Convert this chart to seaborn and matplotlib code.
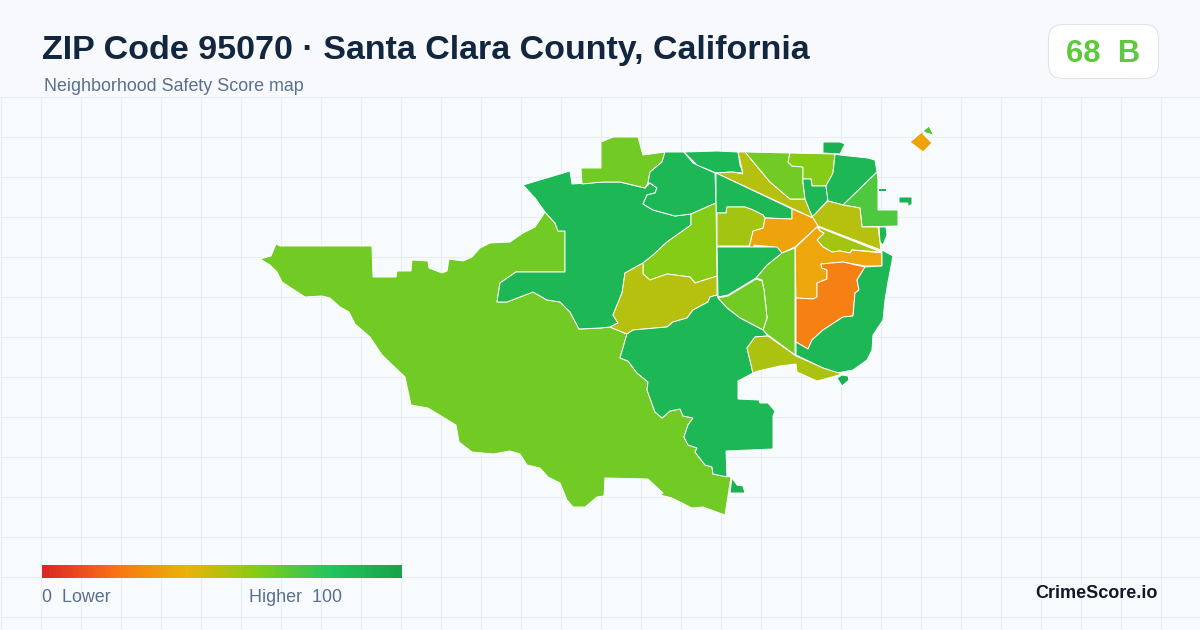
import numpy as np
import matplotlib.pyplot as plt
import seaborn as sns
from matplotlib.colors import LinearSegmentedColormap
from matplotlib.patches import FancyBboxPatch, Rectangle

# score scale of the legend
scale_stops = [0, 0.2, 0.4, 0.6, 0.8, 1]
scale_colors = ['#dc2626', '#f97316', '#eab308', '#84cc16', '#22c55e', '#16a34a']
legend_scores = list(range(0, 101))

# tract outlines (x, y pixels of the map)
southwest = [(260,259),(271,256),(276,244),(280,246),(372,246),(373,277),(396,277),(397,271),(411,271),(412,260),(428,261),(429,268),(442,273),(447,271),(449,259),(463,261),(472,257),(480,248),(490,243),(510,242),(523,233),(535,227),(545,212),(550,218),(555,223),(558,231),(565,231),(565,272),(516,272),(500,283),(497,302),(507,302),(533,292),(547,300),(560,302),(570,312),(579,329),(600,328),(610,327),(627,334),(620,358),(628,361),(637,373),(648,382),(647,390),(655,412),(662,418),(670,411),(680,409),(683,416),(693,418),(688,425),(684,437),(688,445),(697,448),(695,452),(705,465),(712,467),(713,474),(731,477),(725,515),(703,507),(692,508),(672,498),(660,495),(663,493),(648,479),(605,478),(604,496),(597,497),(585,507),(573,507),(567,500),(560,483),(548,477),(540,468),(527,465),(520,454),(510,451),(493,454),(472,452),(459,442),(456,425),(428,408),(411,405),(405,377),(382,355),(370,337),(355,324),(349,312),(340,307),(330,298),(322,296),(305,297),(282,282),(277,272),(270,265)]
west = [(523,185),(570,171),(572,184),(603,182),(620,182),(645,188),(650,183),(657,188),(655,193),(647,195),(643,204),(653,210),(675,216),(691,214),(691,225),(667,242),(653,255),(643,263),(625,273),(622,293),(613,315),(618,323),(610,327),(600,328),(579,329),(570,312),(560,302),(547,300),(533,292),(507,302),(497,302),(500,283),(516,272),(565,272),(565,231),(558,231),(555,223),(545,212),(535,198)]
top_hill = [(581,168),(601,168),(601,142),(613,137),(638,137),(643,155),(665,152),(662,162),(650,172),(648,183),(645,188),(620,182),(603,182),(582,184)]
north_mid = [(665,152),(684,152),(693,163),(715,173),(716,203),(691,214),(675,216),(653,210),(643,204),(647,195),(655,193),(657,188),(650,183),(648,183),(650,172),(662,162)]
north_top = [(684,152),(717,151),(738,152),(740,165),(743,173),(732,172),(716,173),(697,165)]
wedge = [(716,173),(732,172),(743,174),(740,160),(738,152),(745,152),(770,182),(790,199),(805,199),(812,216),(813,218)]
wedge_below = [(716,173),(792,209),(792,219),(765,218),(763,215),(753,210),(745,207),(727,207),(726,213),(716,213)]
north_light = [(745,152),(790,153),(788,162),(792,166),(803,167),(803,182),(805,199),(790,199),(770,182)]
north_lime = [(790,153),(835,154),(833,173),(826,186),(812,186),(811,179),(803,179),(803,167),(792,166),(788,162)]
center_small = [(803,179),(811,179),(812,186),(826,186),(828,200),(817,212),(815,216),(812,216),(805,199),(803,182)]
northeast = [(835,154),(840,155),(868,158),(875,160),(877,172),(843,205),(828,201),(826,186),(833,173)]
north_patch = [(823,142),(840,142),(845,144),(840,154),(823,153)]
east_bright = [(877,172),(878,180),(878,210),(898,210),(898,226),(862,227),(860,208),(843,205)]
patch_a = [(878,188),(886,188),(886,191),(878,191)]
patch_b = [(899,197),(912,197),(912,204),(908,207),(908,203),(899,203)]
patch_c = [(879,227),(886,227),(887,235),(883,245),(880,242)]
east_olive = [(828,201),(843,205),(860,208),(862,227),(878,227),(881,250),(818,226),(812,217),(817,212)]
center_orange = [(792,209),(813,218),(818,226),(795,247),(782,253),(775,247),(754,245),(754,253),(749,253),(750,243),(753,231),(763,228),(765,218),(792,219)]
strip = [(818,227),(881,252),(852,250),(850,253),(840,251),(832,252),(823,247),(817,240),(824,233),(820,231)]
east_yellow = [(817,227),(820,231),(824,233),(817,240),(823,247),(832,252),(840,251),(850,253),(852,250),(882,253),(882,266),(865,266),(843,262),(821,264),(822,268),(827,270),(827,279),(817,283),(817,297),(813,299),(796,298),(795,248)]
deep_orange = [(821,264),(843,262),(865,267),(857,280),(859,290),(855,293),(853,316),(843,317),(823,330),(812,340),(808,349),(796,342),(796,298),(813,299),(817,297),(817,283),(827,279),(827,270),(822,268)]
east_rim = [(865,267),(882,266),(882,250),(893,256),(888,282),(885,300),(883,320),(873,335),(872,350),(867,360),(853,370),(837,373),(823,368),(796,355),(796,342),(808,349),(812,340),(823,330),(843,317),(853,316),(855,293),(859,290),(857,280)]
center_tall = [(795,248),(795,355),(768,335),(763,330),(767,318),(766,308),(764,290),(762,280),(756,278),(767,265),(782,253)]
center_green = [(717,247),(777,247),(782,253),(767,265),(756,278),(728,295),(718,297)]
center_left = [(718,298),(728,296),(756,279),(762,281),(764,290),(766,308),(767,318),(763,330),(740,318),(727,308)]
lime_mid = [(643,263),(653,255),(667,242),(691,225),(691,214),(716,203),(717,276),(695,283),(690,277),(667,274),(650,280),(643,274)]
olive_west = [(625,273),(643,263),(643,274),(650,280),(667,274),(690,277),(695,283),(717,276),(717,295),(710,297),(708,302),(693,310),(687,318),(673,322),(667,327),(633,330),(627,334),(610,327),(618,323),(613,315),(622,293)]
olive_top = [(717,213),(726,213),(727,207),(745,207),(753,210),(763,215),(765,218),(763,228),(753,231),(750,243),(749,246),(717,246)]
south_green = [(627,334),(633,330),(667,327),(673,322),(687,318),(693,310),(708,302),(710,297),(717,295),(718,298),(727,308),(740,318),(763,330),(768,336),(755,337),(747,348),(753,373),(738,381),(738,399),(759,400),(760,403),(768,403),(775,411),(773,416),(773,449),(726,451),(727,477),(713,474),(712,467),(705,465),(695,452),(697,448),(688,445),(684,437),(688,425),(693,418),(683,416),(680,409),(670,411),(662,418),(655,412),(647,390),(648,382),(637,373),(628,361),(620,358)]
south_tip = [(732,478),(737,485),(743,486),(745,493),(730,493)]
olive_south = [(755,337),(768,336),(796,356),(823,368),(842,374),(832,377),(817,381),(797,372),(796,364),(780,366),(758,371),(753,373),(747,348)]
south_patch = [(837,378),(842,386),(849,380),(848,376),(842,375)]
far_orange = [(910,142),(923,131),(923,134),(932,143),(923,152)]
far_green = [(923,131),(929,126),(934,136),(930,134),(926,133)]

tracts = [southwest, west, top_hill, north_mid, north_top, wedge, wedge_below, north_light,
          north_lime, center_small, northeast, north_patch, east_bright, patch_a, patch_b,
          patch_c, east_olive, center_orange, strip, east_yellow, deep_orange, east_rim,
          center_tall, center_green, center_left, lime_mid, olive_west, olive_top,
          south_green, south_tip, olive_south, south_patch, far_orange, far_green]
scores = [64, 88, 64, 88, 88, 50, 88, 64,
          60, 88, 88, 92, 71, 92, 92,
          88, 50, 35, 54, 36, 24, 88,
          64, 88, 64, 60, 50, 54,
          88, 92, 52, 92, 35, 71]

sns.set_style("whitegrid", {'axes.facecolor': '#f8fbfd', 'grid.color': '#e8eff4'})
plt.rcParams['font.family'] = ['Liberation Sans', 'DejaVu Sans']

cmap = LinearSegmentedColormap.from_list('score', list(zip(scale_stops, scale_colors)))

fig = plt.figure(figsize=(12, 6.3), dpi=100)
ax = fig.add_axes([0, 0, 1, 1])
ax.set_xlim(0, 1200)
ax.set_ylim(630, 0)
ax.set_xticks(np.arange(0.5, 1200, 40))
ax.set_yticks(np.arange(97, 630, 40))
ax.grid(True, lw=0.75)
ax.tick_params(length=0, labelbottom=False, labelleft=False)
ax.set_axisbelow(True)
sns.despine(ax=ax, left=True, bottom=True)

# header band hides the grid
ax.add_patch(Rectangle((0, 0), 1200, 96.5, color='#f8f9fc', lw=0, zorder=1))

for poly, score in zip(tracts, scores):
    xs, ys = zip(*poly)
    ax.fill(xs, ys, facecolor=cmap(score / 100), edgecolor='white', lw=0.7, zorder=2)

ax.text(42, 59, 'ZIP Code 95070 · Santa Clara County, California', fontsize=24.5,
        fontweight='bold', color='#12263f', zorder=5)
ax.text(44, 91, 'Neighborhood Safety Score map', fontsize=12.9, color='#5a6f8f', zorder=5)

# score badge
ax.add_patch(FancyBboxPatch((1048.5, 24.5), 110, 54, boxstyle='round,pad=0,rounding_size=14',
                            fc='white', ec='#dfe4ee', lw=0.8, zorder=3))
ax.text(1103, 62, '68  B', fontsize=22.3, fontweight='bold', color='#5fc93c', ha='center', zorder=5)

# legend bar
cax = fig.add_axes([42 / 1200, 1 - 578 / 630, 360 / 1200, 13 / 630])
sns.heatmap(np.array(legend_scores).reshape(1, -1), ax=cax, cmap=cmap, vmin=0, vmax=100,
            cbar=False, xticklabels=False, yticklabels=False, rasterized=True)
ax.text(42, 602, '0  Lower', fontsize=12.9, color='#5a6f8f', zorder=5)
ax.text(249, 602, 'Higher  100', fontsize=12.9, color='#5a6f8f', zorder=5)

ax.text(1158, 598, 'CrimeScore.io', fontsize=13, fontweight='bold', color='#111827', ha='right', zorder=5)

fig.savefig('out.png', dpi=100)
